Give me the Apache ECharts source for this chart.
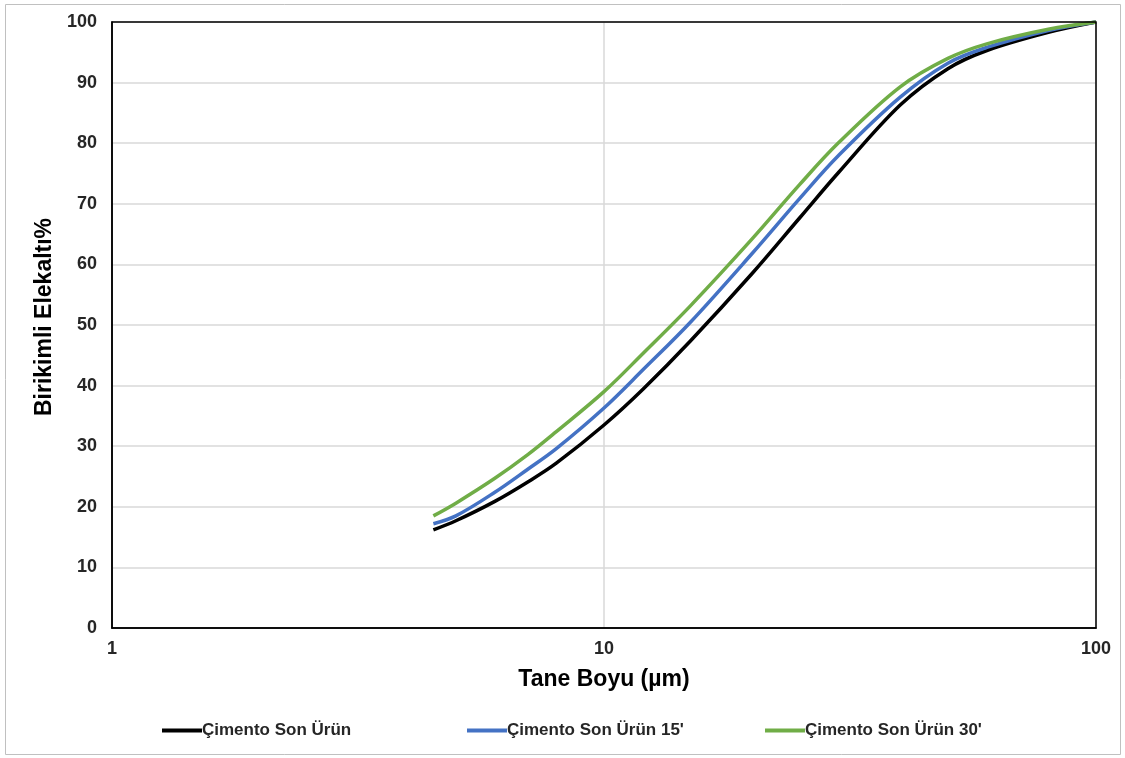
<!DOCTYPE html>
<html>
<head>
<meta charset="utf-8">
<script src="https://cdn.jsdelivr.net/npm/echarts@6/dist/echarts.min.js"></script>
<style>
html,body{margin:0;padding:0;background:#fff;}
#chart{width:1125px;height:758px;}
</style>
</head>
<body>
<div id="chart"></div>
<script>
// Particle size (µm)
var sizes = [4.5, 5, 6, 7, 8, 10, 12, 15, 20, 25, 30, 40, 50, 60, 80, 100];
// Cumulative passing (%)
var sonUrun   = [16.2, 17.7, 20.9, 24.1, 27.2, 33.5, 39.4, 47.4, 58.5, 67.7, 75.2, 86.3, 92.3, 95.3, 98.3, 100];
var sonUrun15 = [17.2, 18.5, 22.4, 26.2, 29.6, 36.3, 42.6, 50.5, 61.8, 70.9, 78.0, 87.6, 93.2, 95.8, 98.6, 100];
var sonUrun30 = [18.5, 20.6, 24.7, 28.6, 32.4, 39.0, 45.3, 53.2, 64.2, 73.2, 80.1, 89.3, 94.0, 96.4, 98.8, 100];
var seriesNames = ['Çimento Son Ürün', "Çimento Son Ürün 15'", "Çimento Son Ürün 30'"];
var seriesColors = ['#000000', '#4472C4', '#70AD47'];
var yTicks = {min: 0, max: 100, interval: 10};
var xRange = {min: 1, max: 100};

function pairs(ys){ return sizes.map(function(x,i){ return [x, ys[i]]; }); }
var allData = [sonUrun, sonUrun15, sonUrun30];

var chart = echarts.init(document.getElementById('chart'), null, {renderer:'canvas'});
var font = 'Liberation Sans, Arial, sans-serif';
var G = {left: 112, top: 22, right: 29, bottom: 130};
var legendLefts = [157, 462, 760];
chart.setOption({
  animation: false,
  backgroundColor: '#fff',
  graphic: [{
    type: 'rect', silent: true, z: 0,
    shape: {x: 5.5, y: 4.5, width: 1115, height: 750},
    style: {fill: 'none', stroke: '#c0c0c0', lineWidth: 1}
  }, {
    type: 'rect', silent: true, z: 100,
    shape: {x: G.left, y: G.top, width: 1125 - G.left - G.right, height: 758 - G.top - G.bottom},
    style: {fill: 'none', stroke: '#000', lineWidth: 1.5}
  }],
  grid: {left: G.left, top: G.top, right: G.right, bottom: G.bottom, show: false},
  legend: seriesNames.map(function(n, i){
    return {
      bottom: 14, left: legendLefts[i],
      itemWidth: 40, itemHeight: 4,
      icon: 'rect',
      textStyle: {fontFamily: font, fontWeight: 'bold', fontSize: 17, color: '#262626', padding: [0,0,0,-5]},
      data: [n]
    };
  }),
  xAxis: {
    type: 'log', logBase: 10, min: xRange.min, max: xRange.max,
    name: 'Tane Boyu (µm)', nameLocation: 'middle', nameGap: 40,
    nameTextStyle: {fontFamily: font, fontWeight: 'bold', fontSize: 23, color: '#000'},
    axisLine: {show: true, lineStyle: {color: '#000', width: 1.5}},
    axisTick: {show: false},
    axisLabel: {fontFamily: font, fontWeight: 'bold', fontSize: 18, color: '#262626', margin: 12},
    splitLine: {show: true, lineStyle: {color: '#d9d9d9', width: 1.5}},
    minorTick: {show: false}, minorSplitLine: {show: false}
  },
  yAxis: {
    type: 'value', min: yTicks.min, max: yTicks.max, interval: yTicks.interval,
    name: 'Birikimli Elekaltı%', nameLocation: 'middle', nameGap: 53, nameRotate: 90,
    nameTextStyle: {fontFamily: font, fontWeight: 'bold', fontSize: 23, color: '#000', padding: [0,0,0,16]},
    axisLine: {show: true, lineStyle: {color: '#000', width: 1.5}},
    axisTick: {show: false},
    axisLabel: {fontFamily: font, fontWeight: 'bold', fontSize: 18, color: '#262626', margin: 15},
    splitLine: {show: true, lineStyle: {color: '#d9d9d9', width: 1.5}}
  },
  series: allData.map(function(d, i){
    return {
      name: seriesNames[i], type: 'line', smooth: 0.35, showSymbol: false,
      data: pairs(d), z: 3 + i,
      lineStyle: {color: seriesColors[i], width: 3.5},
      itemStyle: {color: seriesColors[i]}
    };
  })
});
</script>
</body>
</html>
